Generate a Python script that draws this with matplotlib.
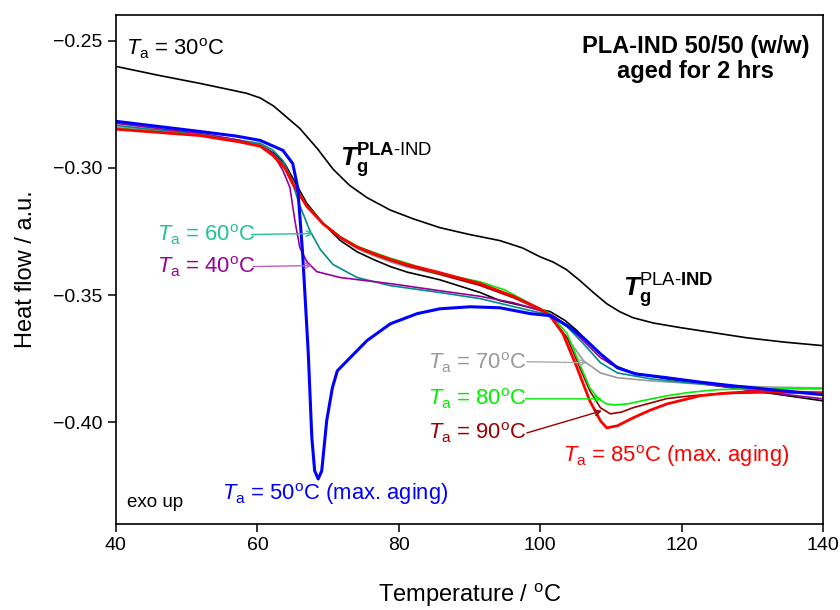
import matplotlib
matplotlib.use("Agg")
import matplotlib.pyplot as plt

plt.rcParams['font.family'] = 'Liberation Sans'
plt.rcParams['mathtext.fontset'] = 'custom'
plt.rcParams['mathtext.rm'] = 'Liberation Sans'
plt.rcParams['mathtext.it'] = 'Liberation Sans:italic'
plt.rcParams['mathtext.bf'] = 'Liberation Sans:bold'
plt.rcParams['mathtext.bfit'] = 'Liberation Sans:italic:bold'

# Ta = 30 C (upper black trace)
t30 = [40, 46.0, 51.9, 56.5, 58.5, 60.4, 62.3, 64.2, 66.0, 68.5, 70.7, 73.0, 75.5, 78.8, 82.0, 85.8, 90.0,
       94.3, 97.5, 100.0, 101.8, 103.7, 105.6, 107.5, 109.4, 111.2, 113.1, 116.0, 119.8, 124.5, 129.2,
       134.5, 140]
h30 = [-0.2601, -0.2636, -0.2668, -0.2695, -0.2707, -0.2725, -0.2757, -0.2802, -0.2845, -0.2925, -0.3005,
       -0.3068, -0.3117, -0.3166, -0.3200, -0.3235, -0.3262, -0.3286, -0.3315, -0.3350, -0.3370, -0.3400,
       -0.3443, -0.3490, -0.3534, -0.3565, -0.3589, -0.3610, -0.3628, -0.3648, -0.3668, -0.3685, -0.3699]

# Ta = 40 C (purple)
t40 = [40, 51.9, 57.5, 60.5, 62.2, 63.6, 64.6, 65.3, 66.0, 67.0, 68.4, 71.7, 78.8, 85.8, 91.5, 96.2,
       101.4, 103.8, 106.1, 108.5, 110.9, 113.5, 117.9, 122.0, 127.3, 133.0, 140]
h40 = [-0.2825, -0.2865, -0.2892, -0.2915, -0.2943, -0.3010, -0.3077, -0.3207, -0.3313, -0.3369, -0.3408,
       -0.3431, -0.3455, -0.3483, -0.3505, -0.3530, -0.3573, -0.3620, -0.3680, -0.3746, -0.3786, -0.3810,
       -0.3825, -0.3842, -0.3865, -0.3885, -0.3908]

# Ta = 50 C (blue, max. aging)
t50 = [40, 51.9, 57.0, 60.4, 63.6, 65.0, 65.7, 66.4, 67.2, 67.7, 68.1, 68.6, 69.1, 69.8, 70.6, 71.3,
       72.7, 75.5, 78.8, 82.6, 85.8, 90.1, 94.3, 98.6, 101.4, 103.8, 106.1, 108.5, 110.9, 113.5, 117.9,
       122.5, 127.3, 133.0, 140]
h50 = [-0.2817, -0.2857, -0.2875, -0.2892, -0.2931, -0.2983, -0.3077, -0.3337, -0.3731, -0.4061, -0.4191,
       -0.4223, -0.4191, -0.3994, -0.3865, -0.3798, -0.3758, -0.3679, -0.3613, -0.3573, -0.3554, -0.3546,
       -0.3550, -0.3573, -0.3581, -0.3620, -0.3668, -0.3731, -0.3786, -0.3810, -0.3825, -0.3842, -0.3857,
       -0.3873, -0.3892]

# Ta = 60 C (teal)
t60 = [40, 51.9, 57.5, 60.4, 62.2, 63.6, 64.6, 66.0, 67.4, 68.9, 70.7, 74.1, 78.8, 85.8, 91.5, 98.6,
       101.4, 103.8, 106.1, 108.5, 110.9, 115.5, 121.0, 127.3, 133.0, 140]
h60 = [-0.2833, -0.2869, -0.2892, -0.2904, -0.2930, -0.2971, -0.3030, -0.3148, -0.3246, -0.3321, -0.3380,
       -0.3431, -0.3463, -0.3490, -0.3514, -0.3561, -0.3578, -0.3625, -0.3691, -0.3766, -0.3806, -0.3829,
       -0.3845, -0.3861, -0.3875, -0.3888]

# Ta = 70 C (grey)
t70 = [40, 51.9, 57.5, 60.4, 62.2, 63.9, 65.0, 67.0, 69.3, 71.7, 74.1, 76.4, 78.8, 81.2, 85.8, 91.5,
       96.2, 100.0, 101.4, 103.8, 106.1, 108.5, 110.9, 115.5, 121.0, 127.3, 133.0, 140]
h70 = [-0.2840, -0.2866, -0.2893, -0.2910, -0.2945, -0.2995, -0.3055, -0.3148, -0.3218, -0.3276, -0.3318,
       -0.3345, -0.3370, -0.3390, -0.3420, -0.3462, -0.3510, -0.3560, -0.3589, -0.3668, -0.3758, -0.3806,
       -0.3825, -0.3837, -0.3847, -0.3857, -0.3862, -0.3865]

# Ta = 80 C (green)
t80 = [40, 51.9, 57.5, 60.4, 62.2, 63.9, 65.0, 67.0, 69.3, 71.7, 74.1, 76.4, 78.8, 81.2, 84.4, 87.5,
       91.5, 95.0, 98.6, 101.4, 103.8, 105.2, 107.0, 108.3, 109.4, 110.5, 112.3, 114.5, 117.9, 121.0,
       125.0, 130.0, 140]
h80 = [-0.2845, -0.2870, -0.2896, -0.2913, -0.2950, -0.3000, -0.3060, -0.3150, -0.3217, -0.3270, -0.3308,
       -0.3332, -0.3355, -0.3375, -0.3405, -0.3425, -0.3448, -0.3480, -0.3534, -0.3573, -0.3652, -0.3746,
       -0.3865, -0.3910, -0.3928, -0.3932, -0.3928, -0.3915, -0.3896, -0.3883, -0.3872, -0.3868, -0.3869]

# Ta = 85 C (red, max. aging)
t85 = [40, 51.9, 57.5, 60.4, 62.2, 63.9, 65.0, 67.0, 69.3, 71.7, 74.1, 76.4, 78.8, 81.2, 85.8, 91.5,
       96.2, 100.0, 101.4, 103.2, 105.2, 107.0, 108.5, 109.4, 110.9, 113.1, 115.5, 117.9, 122.6, 126.0,
       129.7, 134.0, 140]
h85 = [-0.2848, -0.2873, -0.2898, -0.2915, -0.2951, -0.3002, -0.3062, -0.3152, -0.3220, -0.3273, -0.3311,
       -0.3336, -0.3360, -0.3380, -0.3412, -0.3455, -0.3505, -0.3555, -0.3581, -0.3652, -0.3786, -0.3916,
       -0.3994, -0.4022, -0.4014, -0.3983, -0.3953, -0.3928, -0.3896, -0.3886, -0.3880, -0.3880, -0.3884]

# Ta = 90 C (dark red)
t90 = [40, 51.9, 57.5, 60.4, 62.2, 63.9, 65.0, 67.0, 69.3, 71.7, 74.1, 76.4, 78.8, 81.2, 85.8, 91.5,
       96.2, 100.0, 101.4, 103.8, 105.6, 107.0, 108.5, 109.9, 111.5, 113.1, 117.9, 121.0, 125.0, 131.0, 140]
h90 = [-0.2846, -0.2871, -0.2896, -0.2913, -0.2948, -0.2998, -0.3058, -0.3150, -0.3220, -0.3275, -0.3313,
       -0.3340, -0.3364, -0.3385, -0.3418, -0.3462, -0.3510, -0.3556, -0.3581, -0.3668, -0.3786, -0.3876,
       -0.3943, -0.3967, -0.3960, -0.3943, -0.3907, -0.3897, -0.3888, -0.3884, -0.3884]

# unaged / reference (lower black)
tref = [40, 51.9, 57.5, 60.4, 62.2, 63.9, 65.0, 67.0, 69.3, 71.7, 74.1, 76.4, 78.8, 81.2, 85.8, 91.5,
        94.3, 98.0, 101.4, 103.5, 105.2, 107.5, 109.9, 113.1, 117.9, 122.5, 127.3, 133.0, 140]
href = [-0.2842, -0.2866, -0.2892, -0.2910, -0.2940, -0.2985, -0.3040, -0.3140, -0.3218, -0.3285, -0.3330,
        -0.3360, -0.3388, -0.3410, -0.3440, -0.3490, -0.3522, -0.3545, -0.3565, -0.3600, -0.3640, -0.3707,
        -0.3770, -0.3806, -0.3829, -0.3848, -0.3865, -0.3888, -0.3916]

fig = plt.figure(figsize=(8.4, 6.1), dpi=100)
ax = fig.add_axes([0.138, 0.141, 0.842, 0.834])

ax.plot(t30, h30, color='black', lw=1.2)
ax.plot(tref, href, color='black', lw=1.2)
ax.plot(t70, h70, color='#999999', lw=1.2)
ax.plot(t60, h60, color='#008b8b', lw=1.2)
ax.plot(t40, h40, color='#990099', lw=1.2)
ax.plot(t90, h90, color='#990000', lw=1.2)
ax.plot(t80, h80, color='#00ee00', lw=1.2)
ax.plot(t85, h85, color='#ff0000', lw=2.0)
ax.plot(t50, h50, color='#0000ff', lw=2.2)

ax.set_xlim(40, 140)
ax.set_ylim(-0.44, -0.24)
ax.set_xticks([40, 60, 80, 100, 120, 140])
ax.set_yticks([-0.40, -0.35, -0.30, -0.25])
ax.tick_params(direction='out', length=6, width=1.1, labelsize=14, top=False, right=False)
for s in ax.spines.values():
    s.set_linewidth(1.2)
ax.set_xlabel(r'Temperature / $^{\mathrm{o}}$C', fontsize=17, labelpad=20)
ax.set_ylabel('Heat flow / a.u.', fontsize=17, labelpad=12)

fs = 15.8
ax.text(41.4, -0.2530, r'$T_{\mathrm{a}}$ = 30$^{\mathrm{o}}$C', fontsize=fs, va='center', ha='left')
ax.text(122.0, -0.2573, 'PLA-IND 50/50 (w/w)\naged for 2 hrs', fontsize=17, fontweight='bold',
        ha='center', va='center', linespacing=1.1)
ax.text(71.7, -0.2971, r'$\mathbfit{T}_{\mathbf{g}}^{\mathbf{PLA}\mathrm{\text{-}IND}}$', fontsize=19,
        va='center', ha='left')
ax.text(111.7, -0.3483, r'$\mathbfit{T}_{\mathbf{g}}^{\mathrm{PLA\text{-}}\mathbf{IND}}$', fontsize=19,
        va='center', ha='left')

labels = [
    (45.8, -0.3262, r'$T_{\mathrm{a}}$ = 60$^{\mathrm{o}}$C', '#1fc39b', (59.2, -0.3262), (67.9, -0.3258), '#1fc39b'),
    (45.8, -0.3388, r'$T_{\mathrm{a}}$ = 40$^{\mathrm{o}}$C', '#990099', (59.4, -0.3388), (67.7, -0.3384), '#c060c0'),
    (84.1, -0.3766, r'$T_{\mathrm{a}}$ = 70$^{\mathrm{o}}$C', '#999999', (98.1, -0.3762), (106.6, -0.3766), '#aaaaaa'),
    (84.1, -0.3908, r'$T_{\mathrm{a}}$ = 80$^{\mathrm{o}}$C', '#00ee00', (97.9, -0.3908), (108.7, -0.3908), '#00ee00'),
    (84.1, -0.4042, r'$T_{\mathrm{a}}$ = 90$^{\mathrm{o}}$C', '#990000', (98.1, -0.4042), (108.7, -0.3955), '#990000'),
]
for x, y, s, c, p0, p1, ac in labels:
    ax.text(x, y, s, fontsize=fs, color=c, va='center', ha='left')
    ax.annotate('', xy=p1, xytext=p0,
                arrowprops=dict(arrowstyle='->', color=ac, lw=1.0, shrinkA=0, shrinkB=0))

ax.text(103.2, -0.4132, r'$T_{\mathrm{a}}$ = 85$^{\mathrm{o}}$C (max. aging)', fontsize=fs, color='#ff0000',
        va='center', ha='left')
ax.text(55.0, -0.4282, r'$T_{\mathrm{a}}$ = 50$^{\mathrm{o}}$C (max. aging)', fontsize=fs, color='#0000ff',
        va='center', ha='left')
ax.text(41.6, -0.4317, 'exo up', fontsize=13.5, va='center', ha='left')

fig.savefig('out.png', dpi=100)
